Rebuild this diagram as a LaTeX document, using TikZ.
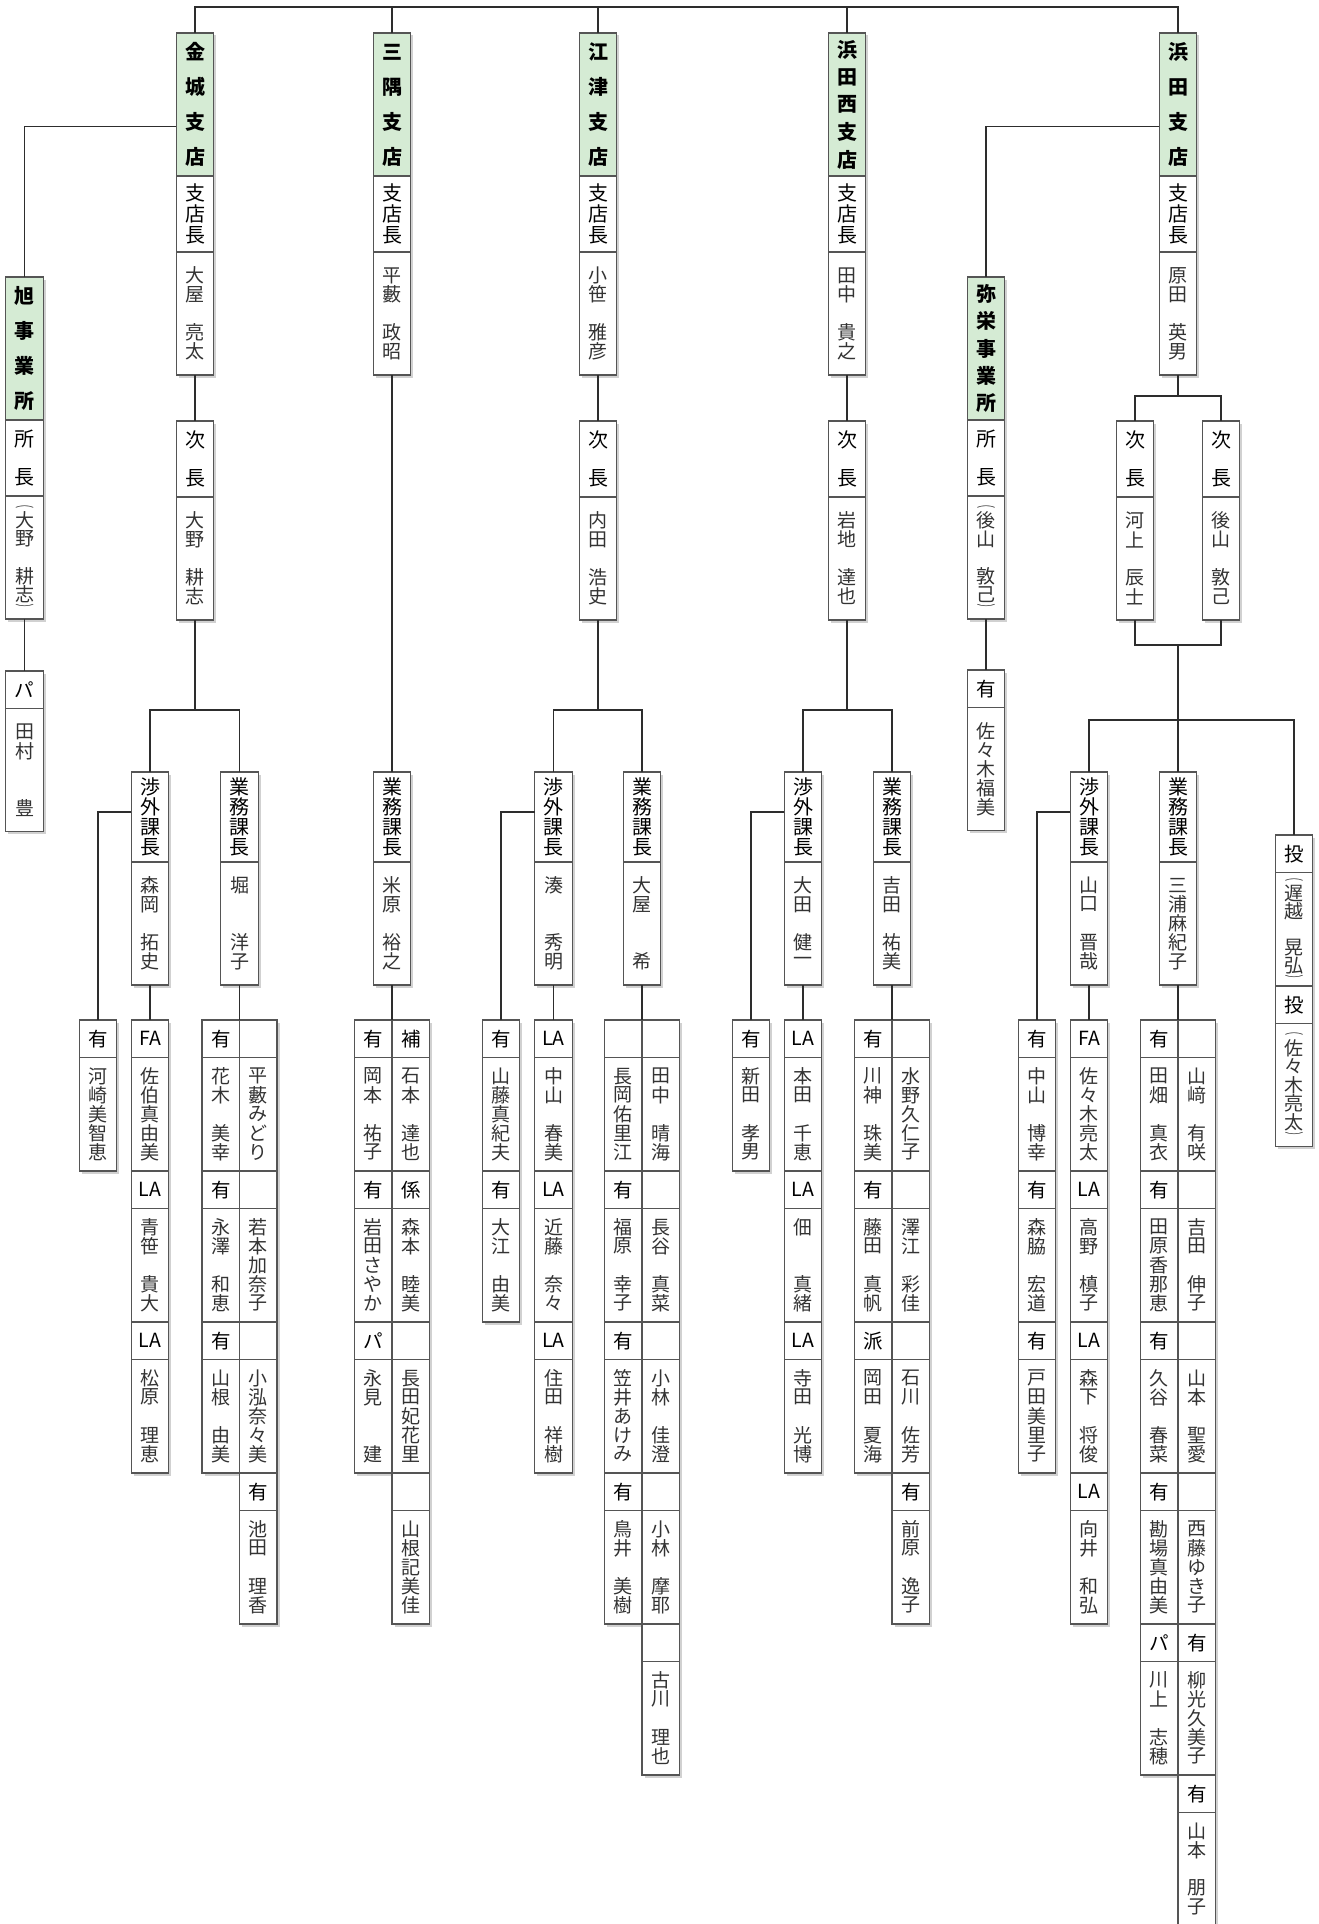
\documentclass[tikz,border=0pt]{standalone}
\usepackage{fontspec}
\usepackage{xcolor}
\usepackage{graphicx}
\usepackage{tikz}
\usetikzlibrary{positioning, shadows}

\newfontfamily\jp{Noto Sans CJK JP}
\definecolor{headgreen}{RGB}{213,235,212}
\definecolor{linegray}{RGB}{45,45,45}
\definecolor{boxgray}{RGB}{85,85,85}

\newcommand\hdfont{\jp\bfseries\fontsize{20pt}{20pt}\selectfont}
\newcommand\rlfont{\jp\fontsize{20pt}{20pt}\selectfont}
\newcommand\nmfont{\jp\fontsize{19pt}{19pt}\selectfont}
\newcommand\tgfont{\jp\fontsize{19.5pt}{19.5pt}\selectfont}

% vertical text: * = empty slot, ( ) = half-slot brackets
\newlength\vtskip
\newcommand\vt[2][19pt]{\setlength\vtskip{#1}\edef\vttmp{#2}%
  \vbox{\offinterlineskip\expandafter\vtA\vttmp\vtend}}
\def\vtA#1#2\vtend{\vtchar{#1}\ifx\relax#2\relax\else\vtA#2\vtend\fi}
\def\vtchar#1{\ifx*#1\vtslot{1}{}\else\ifx(#1\vtslot{.5}{\scalebox{1}[.45]{︵}}\else
  \ifx)#1\vtslot{.5}{\scalebox{1}[.45]{︶}}\else\vtslot{1}{#1}\fi\fi\fi}
\def\vtslot#1#2{\hbox to 1em{\hss\vbox to #1\vtskip{\vss\hbox{#2}\vss}\hss}}

\begin{document}
\begin{tikzpicture}[
  x=1pt, y=-1pt,
  cell/.style={rectangle, draw=boxgray, line width=1.2pt, fill=white,
               inner sep=0pt, outer sep=0pt, minimum width=37.5pt,
               drop shadow={shadow xshift=2.5pt, shadow yshift=-2.5pt, opacity=.3, fill=black!60}},
  headbox/.style={cell, fill=headgreen, minimum height=143pt, font=\hdfont},
  rolebox/.style={cell, minimum height=76pt, font=\rlfont},
  chiefbox/.style={cell, minimum height=90pt, font=\rlfont},
  namebox/.style={cell, minimum height=123pt, font=\nmfont, text=black!80},
  tagbox/.style={cell, minimum height=37.5pt, font=\tgfont},
  staffbox/.style={cell, minimum height=113.5pt, font=\nmfont, text=black!80},
  conn/.style={draw=linegray, line width=1.8pt}
]
\useasboundingbox (0,0) rectangle (1319,1924);

% branches
\node[headbox, anchor=north] (kjg) at (195,33) {\vt[35pt]{金城支店}};
\node[rolebox, below=0pt of kjg] (kjr) {\vt[21.5pt]{支店長}};
\node[namebox, below=0pt of kjr] (kjn) {\vt{大屋*亮太}};
\node[headbox, anchor=north] (skg) at (392,33) {\vt[35pt]{三隅支店}};
\node[rolebox, below=0pt of skg] (skr) {\vt[21.5pt]{支店長}};
\node[namebox, below=0pt of skr] (skn) {\vt{平藪*政昭}};
\node[headbox, anchor=north] (gtg) at (598,33) {\vt[35pt]{江津支店}};
\node[rolebox, below=0pt of gtg] (gtr) {\vt[21.5pt]{支店長}};
\node[namebox, below=0pt of gtr] (gtn) {\vt{小笹*雅彦}};
\node[headbox, anchor=north] (hng) at (847,33) {\vt[27.5pt]{浜田西支店}};
\node[rolebox, below=0pt of hng] (hnr) {\vt[21.5pt]{支店長}};
\node[namebox, below=0pt of hnr] (hnn) {\vt{田中*貴之}};
\node[headbox, anchor=north] (hmg) at (1178,33) {\vt[35pt]{浜田支店}};
\node[rolebox, below=0pt of hmg] (hmr) {\vt[21.5pt]{支店長}};
\node[namebox, below=0pt of hmr] (hmn) {\vt{原田*英男}};

% offices
\node[headbox, anchor=north] (ahg) at (24.5,277) {\vt[35pt]{旭事業所}};
\node[rolebox, below=0pt of ahg] (ahr) {\vt[38pt]{所長}};
\node[namebox, below=0pt of ahr] (ahn) {\vt[18.5pt]{(大野*耕志)}};
\node[tagbox, below=52pt of ahn] (ahp) {パ};
\node[namebox, below=0pt of ahp] (ahpn) {\vt{田村**豊}};
\node[headbox, anchor=north] (ysg) at (986,277) {\vt[27.5pt]{弥栄事業所}};
\node[rolebox, below=0pt of ysg] (ysr) {\vt[38pt]{所長}};
\node[namebox, below=0pt of ysr] (ysn) {\vt[18.5pt]{(後山*敦己)}};
\node[tagbox, below=51pt of ysn] (ysy) {有};
\node[namebox, below=0pt of ysy] (ysyn) {\vt{佐々木福美}};

% deputies
\node[rolebox, below=46pt of kjn] (kjv) {\vt[38pt]{次長}};
\node[namebox, below=0pt of kjv] (kjvn) {\vt{大野*耕志}};
\node[rolebox, below=46pt of gtn] (gtv) {\vt[38pt]{次長}};
\node[namebox, below=0pt of gtv] (gtvn) {\vt{内田*浩史}};
\node[rolebox, below=46pt of hnn] (hnv) {\vt[38pt]{次長}};
\node[namebox, below=0pt of hnv] (hnvn) {\vt{岩地*達也}};
\node[rolebox, anchor=north] (hmv1) at (1135,421) {\vt[38pt]{次長}};
\node[namebox, below=0pt of hmv1] (hmv1n) {\vt{河上*辰士}};
\node[rolebox, anchor=north] (hmv2) at (1221,421) {\vt[38pt]{次長}};
\node[namebox, below=0pt of hmv2] (hmv2n) {\vt{後山*敦己}};

% section chiefs
\node[chiefbox, anchor=north] (kjs) at (150,772) {\vt[20pt]{渉外課長}};
\node[namebox, below=0pt of kjs] (kjsn) {\vt{森岡*拓史}};
\node[chiefbox, anchor=north] (kjb) at (239.5,772) {\vt[20pt]{業務課長}};
\node[namebox, below=0pt of kjb] (kjbn) {\vt{堀**洋子}};
\node[chiefbox, anchor=north] (skb) at (392,772) {\vt[20pt]{業務課長}};
\node[namebox, below=0pt of skb] (skbn) {\vt{米原*裕之}};
\node[chiefbox, anchor=north] (gts) at (553.5,772) {\vt[20pt]{渉外課長}};
\node[namebox, below=0pt of gts] (gtsn) {\vt{湊**秀明}};
\node[chiefbox, anchor=north] (gtb) at (642,772) {\vt[20pt]{業務課長}};
\node[namebox, below=0pt of gtb] (gtbn) {\vt{大屋**希}};
\node[chiefbox, anchor=north] (hns) at (803,772) {\vt[20pt]{渉外課長}};
\node[namebox, below=0pt of hns] (hnsn) {\vt{大田*健一}};
\node[chiefbox, anchor=north] (hnb) at (892,772) {\vt[20pt]{業務課長}};
\node[namebox, below=0pt of hnb] (hnbn) {\vt{吉田*祐美}};
\node[chiefbox, anchor=north] (hms) at (1089,772) {\vt[20pt]{渉外課長}};
\node[namebox, below=0pt of hms] (hmsn) {\vt{山口*晋哉}};
\node[chiefbox, anchor=north] (hmb) at (1178,772) {\vt[20pt]{業務課長}};
\node[namebox, below=0pt of hmb] (hmbn) {\vt{三浦麻紀子}};
\node[tagbox, anchor=north] (hmt1) at (1294,835) {投};
\node[staffbox, below=0pt of hmt1] (hmt1n) {\vt[18pt]{(遅越*晃弘)}};
\node[tagbox, below=0pt of hmt1n] (hmt2) {投};
\node[namebox, below=0pt of hmt2] (hmt2n) {\vt[18.5pt]{(佐々木亮太)}};

% staff columns
\foreach \x/\col/\list in {
    98/kjy/{有/河崎美智恵},
    150/kjf/{FA/佐伯真由美, LA/青笹*貴大, LA/松原*理恵},
    220.75/kjbl/{有/花木*美幸, 有/永澤*和恵, 有/山根*由美},
    258.25/kjbr/{{}/平藪みどり, {}/若本加奈子, {}/小泓奈々美, 有/池田*理香},
    373.25/skl/{有/岡本*祐子, 有/岩田さやか, パ/永見**建},
    410.75/skr/{補/石本*達也, 係/森本*睦美, {}/長田妃花里, {}/山根記美佳},
    501/gty/{有/山藤真紀夫, 有/大江*由美},
    553.5/gtf/{LA/中山*春美, LA/近藤*奈々, LA/住田*祥樹},
    623.25/gtbl/{{}/長岡佑里江, 有/福原*幸子, 有/笠井あけみ, 有/鳥井*美樹},
    660.75/gtbr/{{}/田中*晴海, {}/長谷*真菜, {}/小林*佳澄, {}/小林*摩耶, {}/古川*理也},
    751/hny/{有/新田*孝男},
    803/hnf/{LA/本田*千恵, LA/佃**真緒, LA/寺田*光博},
    873.25/hnbl/{有/川神*珠美, 有/藤田*真帆, 派/岡田*夏海},
    910.75/hnbr/{{}/水野久仁子, {}/澤江*彩佳, {}/石川*佐芳, 有/前原*逸子},
    1037/hmy/{有/中山*博幸, 有/森脇*宏道, 有/戸田美里子},
    1089/hmf/{FA/佐々木亮太, LA/高野*槙子, LA/森下*将俊, LA/向井*和弘},
    1159.25/hmbl/{有/田畑*真衣, 有/田原香那恵, 有/久谷*春菜, 有/勘場真由美, パ/川上*志穂},
    1196.75/hmbr/{{}/山﨑*有咲, {}/吉田*伸子, {}/山本*聖愛, {}/西藤ゆき子, 有/柳光久美子, 有/山本*朋子}}
  \foreach \tg/\nm [count=\i] in \list {
    \node[tagbox, anchor=north] (\col-t\i) at (\x,869+151*\i) {\tg};
    \node[staffbox, below=0pt of \col-t\i] (\col-n\i) {\vt{\nm}};
  };

% connectors
\coordinate (bar) at (0,7);
\draw[conn] (kjg.north) |- (hmg.north |- bar) -- (hmg.north);
\foreach \b in {skg, gtg, hng} \draw[conn] (\b.north) -- (\b.north |- bar);
\draw[conn] ([yshift=-22pt]kjg.west) -| (ahg.north);
\draw[conn] ([yshift=-22pt]hmg.west) -| (ysg.north);
\draw[conn] (ahn.south) -- (ahp.north);
\draw[conn] (ysn.south) -- (ysy.north);

\draw[conn] (kjn.south) -- (kjv.north);
\draw[conn] (kjvn.south) -- ++(0,90) coordinate (kjj) -| (kjs.north);
\draw[conn] (kjj) -| (kjb.north);
\draw[conn] ([yshift=5pt]kjs.west) -| (kjy-t1.north);
\draw[conn] (kjsn.south) -- (kjf-t1.north);
\draw[conn] (kjbn.south) -- (kjbl-t1.north east);

\draw[conn] (skn.south) -- (skb.north);
\draw[conn] (skbn.south) -- (skl-t1.north east);

\draw[conn] (gtn.south) -- (gtv.north);
\draw[conn] (gtvn.south) -- ++(0,90) coordinate (gtj) -| (gts.north);
\draw[conn] (gtj) -| (gtb.north);
\draw[conn] ([yshift=5pt]gts.west) -| (gty-t1.north);
\draw[conn] (gtsn.south) -- (gtf-t1.north);
\draw[conn] (gtbn.south) -- (gtbl-t1.north east);

\draw[conn] (hnn.south) -- (hnv.north);
\draw[conn] (hnvn.south) -- ++(0,90) coordinate (hnj) -| (hns.north);
\draw[conn] (hnj) -| (hnb.north);
\draw[conn] ([yshift=5pt]hns.west) -| (hny-t1.north);
\draw[conn] (hnsn.south) -- (hnf-t1.north);
\draw[conn] (hnbn.south) -- (hnbl-t1.north east);

\draw[conn] (hmn.south) -- ++(0,21) coordinate (hmj) -| (hmv1.north);
\draw[conn] (hmj) -| (hmv2.north);
\coordinate (hmk) at (1178,645);
\coordinate (hml) at (1178,720);
\draw[conn] (hmv1n.south) |- (hmk) -| (hmv2n.south);
\draw[conn] (hmk) -- (hmb.north);
\draw[conn] (hms.north) |- (hml) -| (hmt1.north);
\draw[conn] ([yshift=5pt]hms.west) -| (hmy-t1.north);
\draw[conn] (hmsn.south) -- (hmf-t1.north);
\draw[conn] (hmbn.south) -- (hmbl-t1.north east);

\end{tikzpicture}
\end{document}
